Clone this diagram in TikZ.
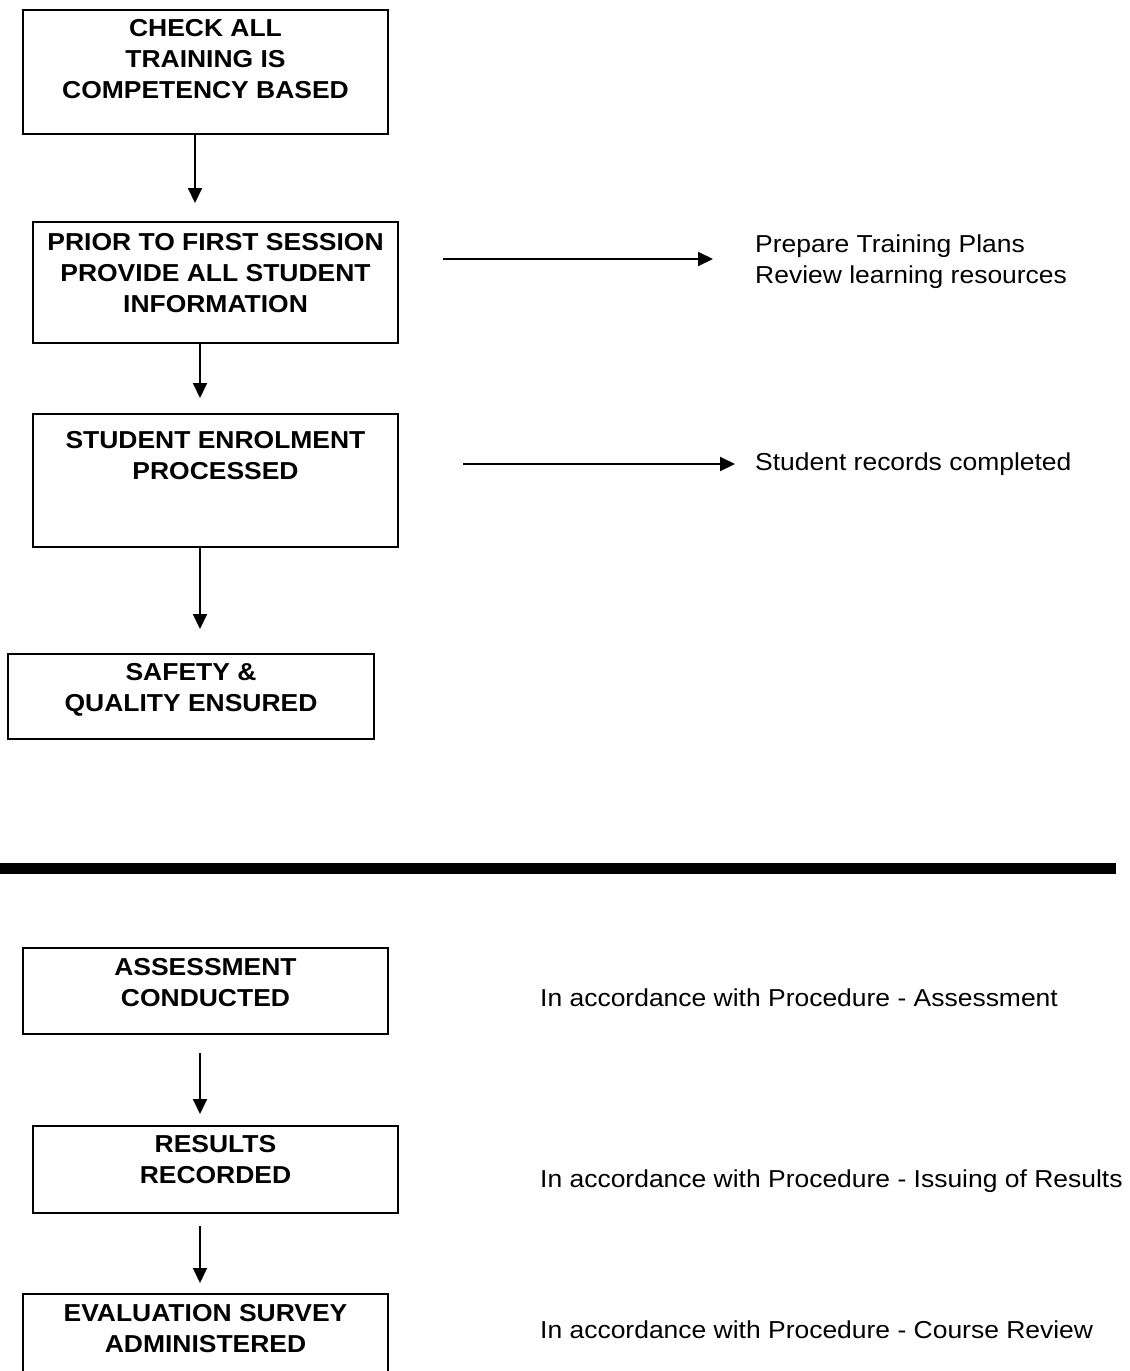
\documentclass[tikz,border=0pt]{standalone}
\usepackage{fontspec}
\setmainfont{Liberation Sans}[FakeStretch=1.08]
\usetikzlibrary{arrows.meta}
\begin{document}
\begin{tikzpicture}[x=1pt,y=-1pt,
  box/.style={draw, line width=2pt, inner sep=0pt, anchor=north west},
  boxtxt/.style={inner sep=0pt, align=center, anchor=north, font=\bfseries\fontsize{24.5}{31}\selectfont},
  note/.style={inner sep=0pt, align=left, font=\fontsize{24.5}{31}\selectfont},
  arr/.style={line width=2pt, -{Triangle[length=15pt,width=14pt]}},
  bar/.style={line width=11pt}
]
\useasboundingbox (0,0) rectangle (1130,1371);
\clip (0,0) rectangle (1130,1371);

% boxes
\node[box, minimum width=365pt, minimum height=124pt] (b1) at (22,9) {};
\node[boxtxt] (t1) at ([yshift=-10pt]b1.north) {CHECK ALL\\TRAINING IS\\COMPETENCY BASED};

\node[box, minimum width=365pt, minimum height=121pt] (b2) at (32,221) {};
\node[boxtxt] (t2) at ([yshift=-12pt]b2.north) {PRIOR TO FIRST SESSION\\PROVIDE ALL STUDENT\\INFORMATION};

\node[box, minimum width=365pt, minimum height=133pt] (b3) at (32,413) {};
\node[boxtxt] (t3) at ([yshift=-18pt]b3.north) {STUDENT ENROLMENT\\PROCESSED};

\node[box, minimum width=366pt, minimum height=85pt] (b4) at (7,653) {};
\node[boxtxt] (t4) at ([yshift=-10pt]b4.north) {SAFETY \&\\QUALITY ENSURED};

\node[box, minimum width=365pt, minimum height=86pt] (b5) at (22,947) {};
\node[boxtxt] (t5) at ([yshift=-11pt]b5.north) {ASSESSMENT\\CONDUCTED};

\node[box, minimum width=365pt, minimum height=87pt] (b6) at (32,1125) {};
\node[boxtxt] (t6) at ([yshift=-10pt]b6.north) {RESULTS\\RECORDED};

\node[box, minimum width=365pt, minimum height=120pt] (b7) at (22,1293) {};
\node[boxtxt] (t7) at ([yshift=-11pt]b7.north) {EVALUATION SURVEY\\ADMINISTERED};

% vertical arrows
\coordinate (a1e) at (195,203);
\draw[arr] (b1.south -| a1e) -- (a1e);
\coordinate (a2e) at (200,398);
\draw[arr] (b2.south -| a2e) -- (a2e);
\coordinate (a3e) at (200,629);
\draw[arr] (b3.south -| a3e) -- (a3e);
\coordinate (a4s) at (200,1053);
\coordinate (a4e) at (200,1114);
\draw[arr] (a4s) -- (a4e);
\coordinate (a5s) at (200,1226);
\coordinate (a5e) at (200,1283);
\draw[arr] (a5s) -- (a5e);

% side notes
\node[note, anchor=north west] (n1) at (755,235) {Prepare Training Plans\\Review learning resources};
\coordinate (hAs) at (443,259);
\coordinate (hAe) at (713,259);
\draw[arr] (hAs) -- (hAe);

\node[note, anchor=base west] (n2) at (755,470) {Student records completed};
\coordinate (hBs) at (463,464);
\coordinate (hBe) at (735,464);
\draw[arr] (hBs) -- (hBe);

\node[note, anchor=base west] (n3) at (540,1006) {In accordance with Procedure - Assessment};
\node[note, anchor=base west] (n4) at (540,1187) {In accordance with Procedure - Issuing of Results};
\node[note, anchor=base west] (n5) at (540,1338) {In accordance with Procedure - Course Review};

% separator bar
\coordinate (barL) at (0,868.5);
\coordinate (barR) at (1116,868.5);
\draw[bar] (barL) -- (barR);
\end{tikzpicture}
\end{document}
